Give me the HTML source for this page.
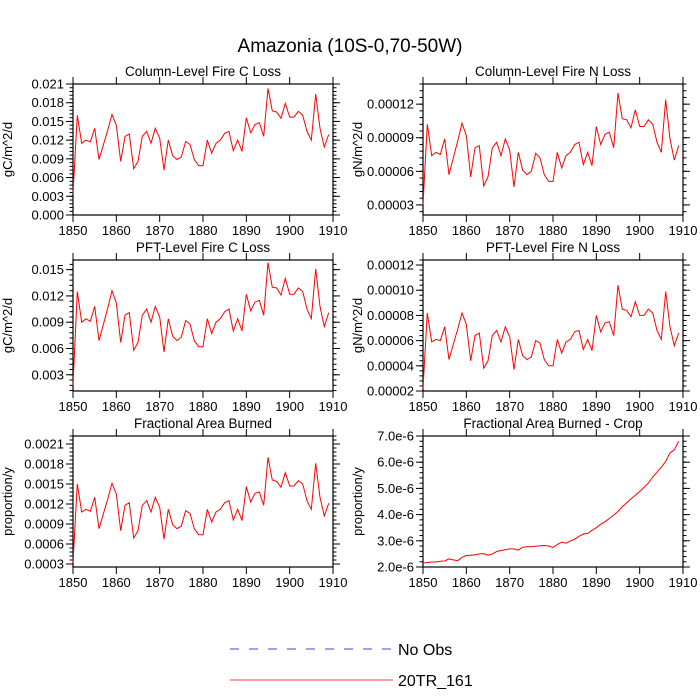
<!DOCTYPE html>
<html><head><meta charset="utf-8"><style>
body{margin:0;background:#fff}
svg{display:block;font-family:"Liberation Sans",sans-serif}
</style></head><body>
<svg id="c" width="700" height="700">
<text x="350" y="52" font-size="19" text-anchor="middle">Amazonia (10S-0,70-50W)</text>
<g>
<line x1="230" y1="649" x2="393" y2="649" stroke="#6666ee" stroke-width="1.2" stroke-dasharray="9,10"/>
<text x="398" y="655" font-size="16">No Obs</text>
<line x1="230" y1="680" x2="393" y2="680" stroke="#ff6666" stroke-width="1.2"/>
<text x="398" y="686" font-size="16">20TR_161</text>
</g>
</svg>
<script>
const years=[];for(let y=1850;y<=1909;y++)years.push(y);
const xTicks=[1850,1860,1870,1880,1890,1900,1910];
const colC=[3.4,16.0,11.5,12.0,11.7,13.9,8.9,11.2,13.6,16.1,14.4,8.6,12.6,13.0,7.4,8.6,12.6,13.4,11.5,13.9,12.3,7.2,12.0,9.5,8.9,9.3,11.8,11.3,8.9,7.9,7.9,12.0,9.9,11.5,12.0,13.1,13.4,10.3,12.0,10.2,15.6,13.2,14.5,14.8,12.6,20.3,16.7,16.5,15.5,17.9,15.7,15.7,16.6,16.0,13.4,12.0,19.4,13.9,10.9,12.9];
const colN=[30,102,74,77,75,89,57,72,87,103,92,55,81,83,47,55,81,86,74,89,79,46,77,61,57,60,76,72,57,51,51,77,63,74,77,84,86,66,77,65,100,84,93,95,81,130,107,106,99,115,100,100,106,102,86,77,124,89,70,83];
const pftC=[1.8,12.5,9.0,9.4,9.1,10.8,6.9,8.7,10.6,12.6,11.2,6.7,9.8,10.1,5.8,6.7,9.8,10.5,9.0,10.8,9.6,5.6,9.4,7.4,6.9,7.3,9.2,8.8,6.9,6.2,6.2,9.4,7.7,9.0,9.4,10.2,10.5,8.0,9.4,8.0,12.2,10.3,11.3,11.5,9.8,15.8,13.0,12.9,12.1,14.0,12.2,12.2,12.9,12.5,10.5,9.4,15.1,10.8,8.5,10.1];
const pftN=[22,82,59,61,60,71,45,57,69,82,73,44,64,66,38,44,64,68,59,71,63,37,61,48,45,47,60,58,45,40,40,61,50,59,61,67,68,53,61,52,80,67,74,75,64,104,85,84,79,91,80,80,85,82,68,61,99,71,56,66];
const fab=[0.32,1.50,1.08,1.12,1.09,1.30,0.83,1.05,1.27,1.51,1.35,0.80,1.18,1.22,0.69,0.80,1.18,1.25,1.08,1.30,1.15,0.67,1.12,0.89,0.83,0.87,1.10,1.06,0.83,0.74,0.74,1.12,0.93,1.08,1.12,1.22,1.25,0.96,1.12,0.95,1.46,1.23,1.36,1.38,1.18,1.90,1.56,1.54,1.45,1.67,1.47,1.47,1.55,1.50,1.25,1.12,1.81,1.30,1.02,1.21];
const crop=[2.15,2.17,2.19,2.19,2.22,2.23,2.31,2.27,2.24,2.37,2.44,2.45,2.46,2.5,2.51,2.45,2.5,2.59,2.63,2.66,2.69,2.69,2.64,2.76,2.77,2.77,2.79,2.81,2.82,2.8,2.74,2.86,2.95,2.91,2.99,3.06,3.17,3.26,3.28,3.4,3.5,3.63,3.73,3.85,3.98,4.12,4.3,4.45,4.6,4.74,4.88,5.04,5.2,5.43,5.62,5.81,6.03,6.36,6.47,6.8];
const ticksColC=["0.000","0.003","0.006","0.009","0.012","0.015","0.018","0.021"];
const ticksColN=["0.00003","0.00006","0.00009","0.00012"];
const ticksPftC=["0.003","0.006","0.009","0.012","0.015"];
const ticksPftN=["0.00002","0.00004","0.00006","0.00008","0.00010","0.00012"];
const ticksFab=["0.0003","0.0006","0.0009","0.0012","0.0015","0.0018","0.0021"];
const ticksCrop=["2.0e-6","3.0e-6","4.0e-6","5.0e-6","6.0e-6","7.0e-6"];

const NS="http://www.w3.org/2000/svg",svg=document.getElementById('c');
function mk(t,a,p){const e=document.createElementNS(NS,t);for(const k in a)e.setAttribute(k,a[k]);(p||svg).appendChild(e);return e;}
function panel(o){
  const L=o.x,R=o.x+260,T=o.y,B=o.y+131;
  const g=mk('g',{});
  
  
  const xs=v=>L+(v-1850)/60*(R-L);
  const ys=v=>B-(v-o.min)/(o.max-o.min)*(B-T);
  const t=mk('text',{x:(L+R)/2,y:T-8,'font-size':13.5,'text-anchor':'middle'},g);t.textContent=o.title;
  
  
  const yl=mk('text',{transform:`translate(${o.ylx},${(T+B)/2}) rotate(-90)`,'font-size':13,'text-anchor':'middle'},g);yl.textContent=o.ylab;
  
  
  xTicks.forEach(v=>{const x=xs(v);
    mk('line',{x1:x,y1:B,x2:x,y2:B+7,stroke:'#000'},g);mk('line',{x1:x,y1:T,x2:x,y2:T-7,stroke:'#000'},g);
    const tx=mk('text',{x:x,y:B+20,'font-size':13,'text-anchor':'middle'},g);tx.textContent=v;
    
    });
  o.ticks.forEach(s=>{const v=parseFloat(s)*o.unit;const y=ys(v);
    mk('line',{x1:L,y1:y,x2:L-7,y2:y,stroke:'#000'},g);mk('line',{x1:R,y1:y,x2:R+7,y2:y,stroke:'#000'},g);
    const ty=mk('text',{x:L-9,y:y+4.5,'font-size':13,'text-anchor':'end'},g);ty.textContent=s;
    
    });
  const st=(parseFloat(o.ticks[1])-parseFloat(o.ticks[0]))*o.unit/5;
  for(let v=parseFloat(o.ticks[0])*o.unit-5*st;v<=o.max+1e-9;v+=st){if(v<o.min-1e-9)continue;const y=ys(v);
    mk('line',{x1:L,y1:y,x2:L-3.5,y2:y,stroke:'#000'},g);mk('line',{x1:R,y1:y,x2:R+3.5,y2:y,stroke:'#000'},g);}
  mk('rect',{x:L,y:T,width:R-L,height:B-T,fill:'none',stroke:'#000','stroke-width':1.2},g);
  const p=mk('polyline',{points:o.data.map((d,i)=>xs(years[i]).toFixed(1)+','+ys(d).toFixed(1)).join(' '),fill:'none',stroke:'#f00','stroke-width':1},g);
  
  
}
panel({name:'panel-column-fire-c',x:73,y:84,title:'Column-Level Fire C Loss',ylab:'gC/m^2/d',ylx:12,data:colC,min:0,max:21,ticks:ticksColC,unit:1000});
panel({name:'panel-column-fire-n',x:423,y:84,title:'Column-Level Fire N Loss',ylab:'gN/m^2/d',ylx:362,data:colN,min:21,max:138,ticks:ticksColN,unit:1e6});
panel({name:'panel-pft-fire-c',x:73,y:260,title:'PFT-Level Fire C Loss',ylab:'gC/m^2/d',ylx:12,data:pftC,min:1.15,max:16.1,ticks:ticksPftC,unit:1000});
panel({name:'panel-pft-fire-n',x:423,y:260,title:'PFT-Level Fire N Loss',ylab:'gN/m^2/d',ylx:362,data:pftN,min:20,max:124,ticks:ticksPftN,unit:1e6});
panel({name:'panel-fractional-area-burned',x:73,y:436,title:'Fractional Area Burned',ylab:'proportion/y',ylx:12,data:fab,min:0.255,max:2.22,ticks:ticksFab,unit:1000});
panel({name:'panel-fractional-area-burned-crop',x:423,y:436,title:'Fractional Area Burned - Crop',ylab:'proportion/y',ylx:362,data:crop,min:2,max:7,ticks:ticksCrop,unit:1e6});
</script>
</body></html>
